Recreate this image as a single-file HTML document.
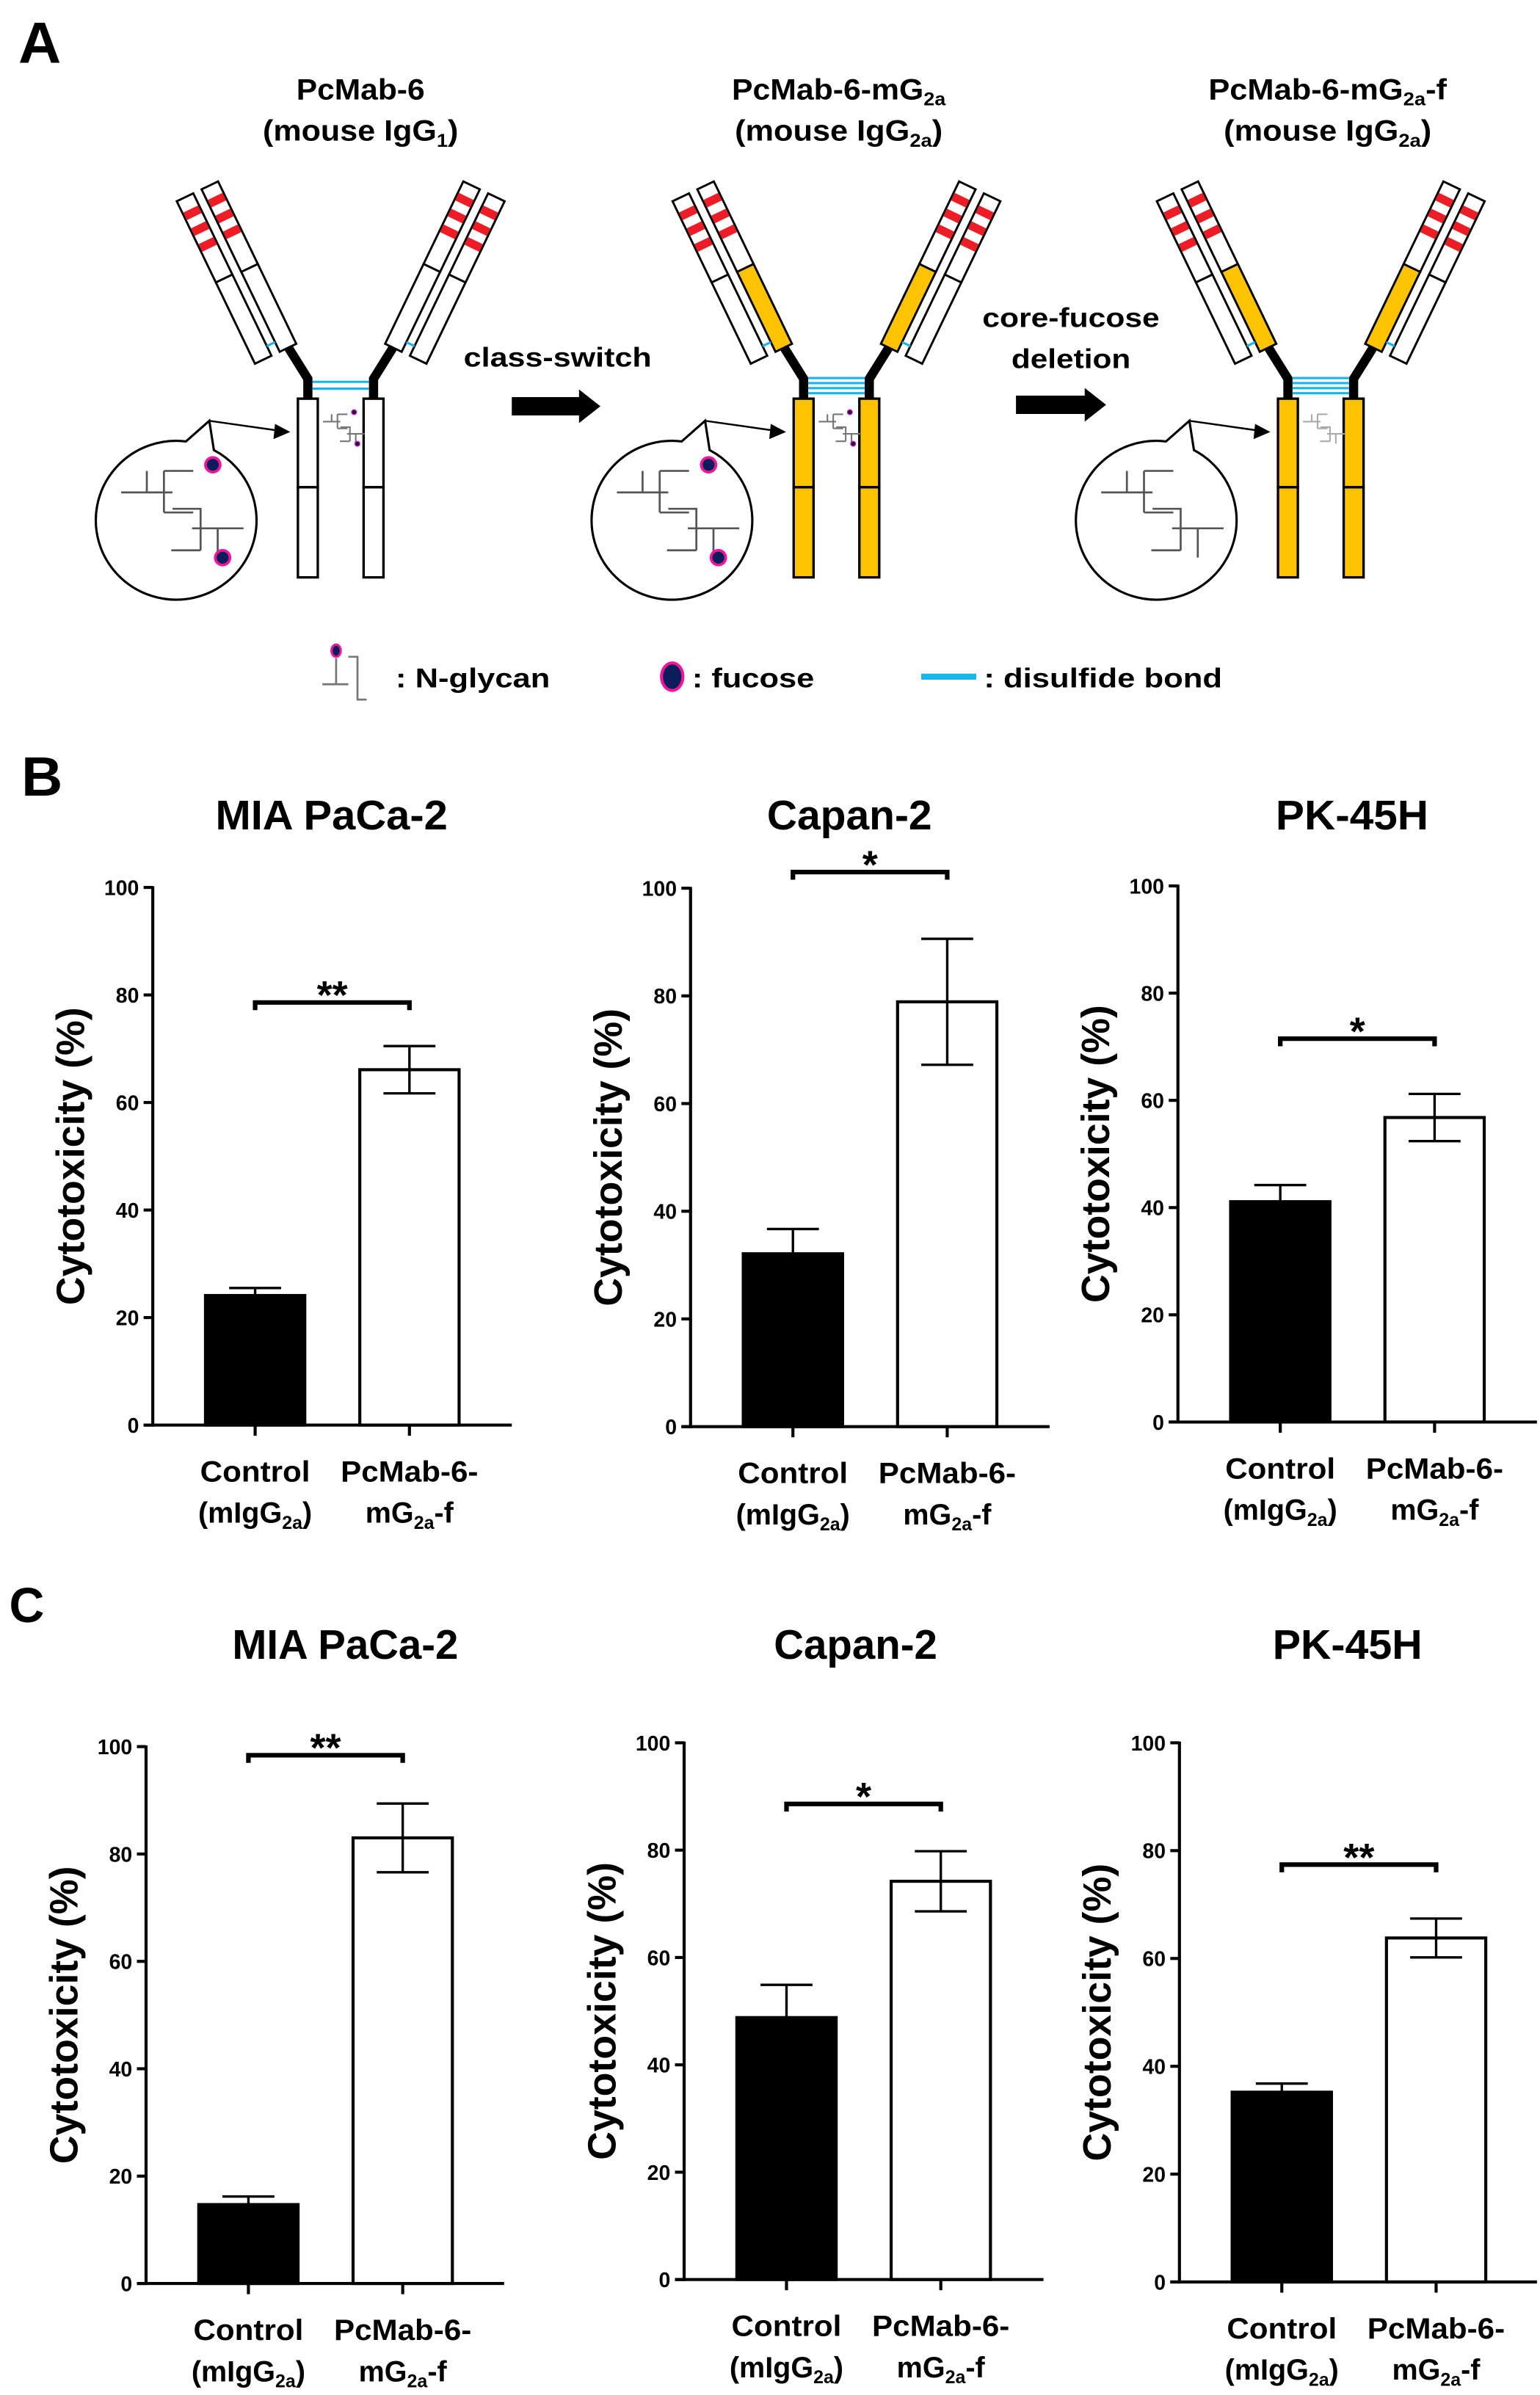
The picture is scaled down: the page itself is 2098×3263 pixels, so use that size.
<!DOCTYPE html>
<html><head><meta charset="utf-8"><title>PcMab-6 figure</title>
<style>
html,body{margin:0;padding:0;background:#fff;}
svg{display:block;}
text{font-family:"Liberation Sans",sans-serif;font-weight:bold;fill:#000;}
</style></head>
<body>
<svg id="fig" xmlns="http://www.w3.org/2000/svg" width="2098" height="3263" viewBox="0 0 1008 1568" preserveAspectRatio="none">
<rect x="0" y="0" width="1008" height="1568" fill="#fff"/>
<g id="panelA"></g>
<g id="panelB"></g>
<g id="panelC"></g>
</svg>
<script>
// ---------------- chart data ----------------
const categories = ["Control", "PcMab-6-mG2a-f"];
const yTicks = [0, 20, 40, 60, 80, 100];
const b1Values = [24.1, 66.1];
const b1Errors = [1.4, 4.4];
const b2Values = [32.1, 78.9];
const b2Errors = [4.6, 11.7];
const b3Values = [41.1, 56.8];
const b3Errors = [3.1, 4.4];
const c1Values = [14.7, 83.0];
const c1Errors = [1.5, 6.4];
const c2Values = [48.8, 74.2];
const c2Errors = [6.1, 5.6];
const c3Values = [35.2, 63.8];
const c3Errors = [1.6, 3.6];
const bracketValues = [78.6, 103, 71.5, 98.4, 88.6, 77.4];
const bracketStars = ["**", "*", "*", "**", "*", "**"];
const chartTitles = ["MIA PaCa-2", "Capan-2", "PK-45H", "MIA PaCa-2", "Capan-2", "PK-45H"];

const NS = "http://www.w3.org/2000/svg";
function mk(tag, attrs, parent) {
  const e = document.createElementNS(NS, tag);
  for (const k in attrs) e.setAttribute(k, attrs[k]);
  if (parent) parent.appendChild(e);
  return e;
}
function txt(str, attrs, parent) {
  const t = mk("text", attrs, parent);
  t.textContent = str;
  return t;
}

// ---------------- panel A ----------------
const A = document.getElementById("panelA");
const ORANGE = "#FDC300", BLUE = "#19B4EA", RED = "#EE1C24", MAG = "#F0159A", NAVY = "#0B1C5A";

let lab = txt("A", {x: 12, y: 41, "font-size": 38, textLength: 28, lengthAdjust: "spacingAndGlyphs"}, A);



function titleText(cx, y, parts, len, name) {
  const t = mk("text", {x: cx, y: y, "text-anchor": "middle", "font-size": 19, textLength: len, lengthAdjust: "spacingAndGlyphs"}, A);
  
  
  parts.forEach(p => {
    const s = mk("tspan", p[1] ? {"font-size": 12, dy: 4} : {dy: p[2] || 0}, t);
    s.textContent = p[0];
  });
  return t;
}
titleText(236, 65, [["PcMab-6"]], 84, "title-pcmab6");
titleText(236, 92, [["(mouse IgG"], ["1", true], [")", false, -4]], 128, "subtitle-igg1");
titleText(549, 65, [["PcMab-6-mG"], ["2a", true]], 140, "title-pcmab6-mg2a");
titleText(549, 92, [["(mouse IgG"], ["2a", true], [")", false, -4]], 136, "subtitle-igg2a");
titleText(869, 65, [["PcMab-6-mG"], ["2a", true], ["-f", false, -4]], 156, "title-pcmab6-mg2a-f");
titleText(869, 92, [["(mouse IgG"], ["2a", true], [")", false, -4]], 136, "subtitle-igg2a-f");

function glycan(parent, ox, oy, sc, color, fuc, w) {
  const g = mk("g", {transform: `translate(${ox},${oy}) scale(${sc})`}, parent);
  const d = "M-35.7,-17.6 H-2.1 M-18.9,-31.7 V-17.6 M-7.7,-31.7 V-4.5 M-7.7,-31.7 H11.5 M-7.7,-4.5 H11.5 M-2.1,-6.9 H16.3 V20.3 M10.7,5.9 H44.4 M27.5,5.9 V25 M-2.9,20.3 H16.3";
  mk("path", {d: d, stroke: color, "stroke-width": w, fill: "none"}, g);
  if (fuc) {
    mk("circle", {cx: 24.3, cy: -35.7, r: 4.8, fill: NAVY, stroke: MAG, "stroke-width": 1.8}, g);
    mk("circle", {cx: 30.7, cy: 25.1, r: 4.8, fill: NAVY, stroke: MAG, "stroke-width": 1.8}, g);
  }
  return g;
}

function arm(parent, x, y, ang, mirror, orange) {
  const g = mk("g", {transform: `translate(${x},${y}) rotate(${ang}) scale(${mirror},1)`}, parent);
  mk("rect", {x: -6, y: -118, width: 12, height: 60, fill: "#fff", stroke: "#000", "stroke-width": 1.4}, g);
  mk("rect", {x: -6, y: -58, width: 12, height: 58, fill: orange ? ORANGE : "#fff", stroke: "#000", "stroke-width": 1.4}, g);
  mk("rect", {x: 12, y: -118, width: 12, height: 59, fill: "#fff", stroke: "#000", "stroke-width": 1.4}, g);
  mk("rect", {x: 12, y: -59, width: 12, height: 59, fill: "#fff", stroke: "#000", "stroke-width": 1.4}, g);
  [-110, -98.5, -87].forEach(yy => {
    mk("rect", {x: -5.3, y: yy, width: 10.6, height: 5.5, fill: RED}, g);
    mk("rect", {x: 12.7, y: yy + 0.5, width: 10.6, height: 5.5, fill: RED}, g);
  });
  mk("line", {x1: 6, y1: -7, x2: 12, y2: -7, stroke: BLUE, "stroke-width": 1.5}, g);
  return g;
}

function antibody(cx, orange, nDis, fucose, name) {
  const g = mk("g", {}, A);
  
  
  const fill = orange ? ORANGE : "#fff";
  [[cx - 28, 13], [cx + 15, 13]].forEach(s => {
    mk("rect", {x: s[0], y: 261, width: s[1], height: 58, fill: fill, stroke: "#000", "stroke-width": 1.6}, g);
    mk("rect", {x: s[0], y: 319, width: s[1], height: 59, fill: fill, stroke: "#000", "stroke-width": 1.6}, g);
  });
  mk("path", {d: `M${cx - 21.5},261 V248 L${cx - 34},228`, stroke: "#000", "stroke-width": 6, fill: "none"}, g);
  mk("path", {d: `M${cx + 21.5},261 V248 L${cx + 34},228`, stroke: "#000", "stroke-width": 6, fill: "none"}, g);
  for (let i = 0; i < nDis; i++) {
    const yy = nDis === 2 ? 250 + i * 4.5 : 247.5 + i * 3.3;
    mk("line", {x1: cx - 18.5, y1: yy, x2: cx + 18.5, y2: yy, stroke: BLUE, "stroke-width": 1.5}, g);
  }
  arm(g, cx + 34.5, 227.7, 25.7, 1, orange);
  arm(g, cx - 34.5, 227.7, -25.7, -1, orange);
  glycan(g, cx + 0.5, 282, 0.34, fucose ? "#777" : "#aaa", fucose, 3);
  const ex = cx - 108, ey = 340;
  mk("path", {d: `M${ex + 6.7},289 A52.6,52 0 1 0 ${ex + 25},294.7 L${ex + 22},275.5 Z`, fill: "#fff", stroke: "#000", "stroke-width": 1.5}, g);
  mk("line", {x1: ex + 22, y1: 275.5, x2: cx - 40, y2: 282, stroke: "#000", "stroke-width": 1.2}, g);
  mk("path", {d: `M${cx - 33},282.8 L${cx - 43},277.5 L${cx - 44},287.5 Z`, fill: "#000"}, g);
  glycan(g, ex + 0, ey, 1, "#555", fucose, 1.3);
  return g;
}
antibody(223, false, 2, true, "antibody-pcmab6");
antibody(547.5, true, 4, true, "antibody-pcmab6-mg2a");
antibody(864.5, true, 4, false, "antibody-pcmab6-mg2a-f");

function blockArrow(x0, x1, cy, name) {
  const p = mk("path", {d: `M${x0},${cy - 6} H${x1 - 14} V${cy - 11} L${x1},${cy} L${x1 - 14},${cy + 11} V${cy + 6} H${x0} Z`, fill: "#000"}, A);
  
  
}
blockArrow(335, 393, 266, "arrow-class-switch");
blockArrow(665, 724, 265, "arrow-core-fucose-deletion");
let t1 = txt("class-switch", {x: 365, y: 240, "text-anchor": "middle", "font-size": 18, textLength: 123, lengthAdjust: "spacingAndGlyphs"}, A);


let t2 = txt("core-fucose", {x: 701, y: 214, "text-anchor": "middle", "font-size": 18, textLength: 116, lengthAdjust: "spacingAndGlyphs"}, A);


let t3 = txt("deletion", {x: 701, y: 241, "text-anchor": "middle", "font-size": 18, textLength: 78, lengthAdjust: "spacingAndGlyphs"}, A);



const L = mk("g", {}, A);


mk("path", {d: "M211,448 H228 M220,431 V448 M228,430 H234 V458 H240", stroke: "#777", "stroke-width": 1.3, fill: "none"}, L);
mk("ellipse", {cx: 220, cy: 426, rx: 3, ry: 4, fill: NAVY, stroke: MAG, "stroke-width": 1.5}, L);
let l1 = txt(": N-glycan", {x: 259, y: 450, "font-size": 18, textLength: 101, lengthAdjust: "spacingAndGlyphs"}, L);


mk("ellipse", {cx: 440, cy: 443, rx: 7, ry: 9, fill: NAVY, stroke: MAG, "stroke-width": 2}, L);
let l2 = txt(": fucose", {x: 453, y: 450, "font-size": 18, textLength: 80, lengthAdjust: "spacingAndGlyphs"}, L);


mk("line", {x1: 603, y1: 443, x2: 639, y2: 443, stroke: BLUE, "stroke-width": 4}, L);
let l3 = txt(": disulfide bond", {x: 644, y: 450, "font-size": 18, textLength: 156, lengthAdjust: "spacingAndGlyphs"}, L);



// ---------------- charts ----------------
const B = document.getElementById("panelB"), C = document.getElementById("panelC");
let lb = txt("B", {x: 14, y: 521, "font-size": 36, textLength: 27, lengthAdjust: "spacingAndGlyphs"}, B);


let lc = txt("C", {x: 6, y: 1062, "font-size": 32, textLength: 23, lengthAdjust: "spacingAndGlyphs"}, C);



const layouts = [
  {p: B, ax: 100, y0: 933, y100: 581, right: 335, tx: 217, ty: 543, tl: 152},
  {p: B, ax: 452, y0: 934, y100: 581.5, right: 687, tx: 556, ty: 543, tl: 108},
  {p: B, ax: 771, y0: 931, y100: 580, right: 1006, tx: 885, ty: 543, tl: 100},
  {p: C, ax: 95.6, y0: 1495, y100: 1143.5, right: 330, tx: 226, ty: 1086, tl: 148},
  {p: C, ax: 447.8, y0: 1492.4, y100: 1141, right: 683, tx: 560, ty: 1086, tl: 107},
  {p: C, ax: 772, y0: 1494, y100: 1141, right: 1006, tx: 882, ty: 1086, tl: 98}
];
const valueSets = [b1Values, b2Values, b3Values, c1Values, c2Values, c3Values];
const errorSets = [b1Errors, b2Errors, b3Errors, c1Errors, c2Errors, c3Errors];
const chartNames = ["b-mia-paca2", "b-capan2", "b-pk45h", "c-mia-paca2", "c-capan2", "c-pk45h"];

function drawChart(k) {
  const L = layouts[k], vals = valueSets[k], errs = errorSets[k];
  const g = mk("g", {}, L.p);
  
  
  const y = v => L.y0 - (L.y100 - L.y0) * -v / 100;
  const xc = i => L.ax + 67 + i * 101;
  const t = txt(chartTitles[k], {x: L.tx, y: L.ty, "text-anchor": "middle", "font-size": 27, textLength: L.tl, lengthAdjust: "spacingAndGlyphs"}, g);
  
  
  const yl = txt("Cytotoxicity (%)", {x: 0, y: 0, "text-anchor": "middle", "font-size": 26, textLength: 195, lengthAdjust: "spacingAndGlyphs", transform: `translate(${L.ax - 45},${(L.y0 + L.y100) / 2}) rotate(-90)`}, g);
  
  
  vals.forEach((v, i) => {
    const bar = mk("rect", {x: xc(i) - 32.5, y: y(v), width: 65, height: y(0) - y(v), fill: i === 0 ? "#000" : "#fff", stroke: "#000", "stroke-width": 2}, g);
    
    
    const eb = mk("path", {d: `M${xc(i)},${y(v - errs[i])} V${y(v + errs[i])} M${xc(i) - 17},${y(v + errs[i])} H${xc(i) + 17} M${xc(i) - 17},${y(v - errs[i])} H${xc(i) + 17}`, stroke: "#000", "stroke-width": 1.6, fill: "none"}, g);
    
    
  });
  const ya = mk("line", {x1: L.ax, y1: y(100) - 0.8, x2: L.ax, y2: y(0) + 1, stroke: "#000", "stroke-width": 2}, g);
  
  
  const xa = mk("line", {x1: L.ax - 6, y1: y(0), x2: L.right, y2: y(0), stroke: "#000", "stroke-width": 2}, g);
  
  
  yTicks.forEach(v => {
    mk("line", {x1: L.ax - 6, y1: y(v), x2: L.ax, y2: y(v), stroke: "#000", "stroke-width": 2}, g);
    const tl = txt(String(v), {x: L.ax - 9, y: y(v) + 5, "text-anchor": "end", "font-size": 14, textLength: String(v).length * 7.6, lengthAdjust: "spacingAndGlyphs"}, g);
    
    
  });
  categories.forEach((c, i) => {
    mk("line", {x1: xc(i), y1: y(0), x2: xc(i), y2: y(0) + 7, stroke: "#000", "stroke-width": 2}, g);
    const a = mk("text", {x: xc(i), y: y(0) + 37, "text-anchor": "middle", "font-size": 19, textLength: i === 0 ? 72 : 90, lengthAdjust: "spacingAndGlyphs"}, g);
    
    
    a.textContent = i === 0 ? "Control" : "PcMab-6-";
    const b = mk("text", {x: xc(i), y: y(0) + 64, "text-anchor": "middle", "font-size": 19}, g);
    
    
    if (i === 0) {
      mk("tspan", {}, b).textContent = "(mIgG";
      mk("tspan", {"font-size": 12, dy: 4}, b).textContent = "2a";
      mk("tspan", {dy: -4}, b).textContent = ")";
    } else {
      mk("tspan", {}, b).textContent = "mG";
      mk("tspan", {"font-size": 12, dy: 4}, b).textContent = "2a";
      mk("tspan", {dy: -4}, b).textContent = "-f";
    }
  });
  const by = y(bracketValues[k]);
  const br = mk("path", {d: `M${xc(0)},${by + 5} V${by} H${xc(1)} V${by + 5}`, stroke: "#000", "stroke-width": 3, fill: "none"}, g);
  
  
  const st = txt(bracketStars[k], {x: (xc(0) + xc(1)) / 2, y: by + 4, "text-anchor": "middle", "font-size": 26}, g);
  
  
}
for (let k = 0; k < 6; k++) drawChart(k);
</script>
</body></html>
